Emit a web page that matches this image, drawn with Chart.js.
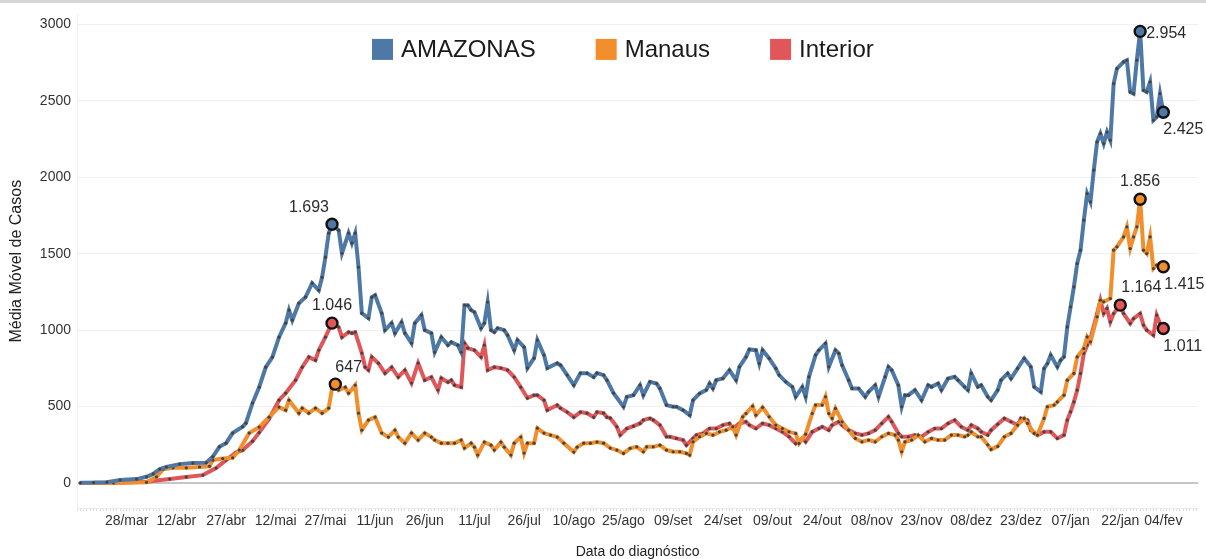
<!DOCTYPE html>
<html>
<head>
<meta charset="utf-8">
<script src="https://cdn.jsdelivr.net/npm/chart.js@4.4.1/dist/chart.umd.min.js"></script>
<style>
  html, body { margin: 0; padding: 0; background: #fff; }
  #wrap { width: 1206px; height: 559px; position: relative; }
</style>
</head>
<body>
<div id="wrap"><canvas id="mediaChart"></canvas></div>
<script>
// eixo x em dias, dia 0 = 14/mar/2020
const tickDays = [14, 29, 44, 59, 74, 89, 104, 119, 134, 149, 164, 179, 194, 209, 224, 239, 254, 269, 284, 299, 314, 327];
const tickLabels = ['28/mar', '12/abr', '27/abr', '12/mai', '27/mai', '11/jun', '26/jun', '11/jul', '26/jul', '10/ago', '25/ago',
    '09/set', '24/set', '09/out', '24/out', '08/nov', '23/nov', '08/dez', '23/dez', '07/jan', '22/jan', '04/fev'];
const yTicks = [0, 500, 1000, 1500, 2000, 2500, 3000];

const seriesNames = ['AMAZONAS', 'Manaus', 'Interior'];
const seriesColors = ['#4e79a7', '#f28e2b', '#e15759'];

// [dia, média móvel]
const amazonasData = [
    [0, 2], [4, 3], [8, 6], [12, 20], [17, 26], [20, 41], [22, 60], [24, 92], [26, 105], [30, 124], [34, 131], [38, 133],
    [40, 172], [42, 237], [44, 261], [46, 327], [49, 368], [50, 392], [52, 523], [54, 627], [56, 758], [58, 824], [60, 954],
    [62, 1046], [63, 1131], [64, 1065], [66, 1176], [68, 1216], [70, 1307], [72, 1261], [73, 1346], [74, 1477], [75, 1634],
    [76, 1693], [78, 1653], [79, 1503], [81, 1634], [82, 1569], [83, 1634], [84, 1412], [85, 1111], [87, 1078], [88, 1216],
    [89, 1229], [91, 1111], [92, 1000], [94, 1046], [95, 980], [97, 1052], [98, 980], [100, 915], [101, 1046], [103, 1098],
    [104, 1000], [106, 980], [107, 856], [109, 954], [111, 902], [112, 922], [114, 902], [115, 856], [116, 1163], [117, 1163],
    [118, 1131], [119, 1118], [121, 1013], [122, 1046], [123, 1183], [124, 1000], [125, 987], [126, 1013], [128, 1000],
    [129, 967], [131, 869], [132, 935], [134, 889], [135, 752], [137, 817], [138, 935], [140, 837], [141, 752], [144, 784],
    [145, 771], [147, 706], [149, 640], [151, 719], [153, 719], [155, 693], [156, 719], [158, 706], [159, 673], [161, 588],
    [164, 499], [165, 564], [167, 575], [169, 640], [170, 575], [172, 662], [174, 651], [175, 619], [177, 510], [179, 499],
    [180, 499], [182, 477], [184, 444], [185, 542], [187, 586], [189, 608], [190, 651], [191, 619], [192, 673], [194, 684],
    [196, 739], [198, 673], [199, 760], [201, 825], [202, 874], [204, 869], [205, 782], [206, 869], [208, 815], [210, 750],
    [211, 706], [213, 662], [215, 629], [216, 564], [218, 629], [219, 564], [220, 695], [222, 837], [223, 869], [225, 913],
    [226, 760], [228, 869], [229, 848], [230, 771], [232, 673], [233, 619], [235, 619], [237, 564], [238, 597], [240, 640],
    [241, 564], [243, 695], [244, 760], [245, 739], [247, 640], [248, 499], [249, 575], [250, 575], [252, 608], [254, 542],
    [256, 640], [257, 629], [259, 651], [260, 608], [262, 684], [264, 695], [265, 673], [267, 629], [268, 608], [269, 717],
    [271, 629], [272, 640], [274, 564], [275, 542], [277, 608], [278, 673], [280, 717], [281, 684], [283, 750], [285, 815],
    [287, 760], [288, 629], [290, 597], [291, 750], [292, 782], [293, 837], [295, 760], [296, 804], [297, 825], [298, 1021],
    [299, 1152], [300, 1283], [301, 1436], [302, 1523], [303, 1719], [304, 1893], [305, 1839], [306, 2046], [307, 2231],
    [308, 2286], [309, 2220], [310, 2296], [311, 2242], [312, 2612], [313, 2710], [315, 2754], [316, 2765], [317, 2558],
    [318, 2547], [319, 2765], [320, 2954], [321, 2569], [322, 2558], [323, 2623], [324, 2373], [325, 2394], [326, 2547], [327, 2425]
];

const manausData = [
    [0, 0], [10, 1], [20, 5], [23, 40], [25, 90], [28, 100], [32, 100], [36, 105], [39, 110], [40, 150], [43, 160], [46, 165],
    [48, 216], [51, 327], [54, 366], [57, 431], [60, 497], [62, 477], [63, 542], [66, 457], [67, 490], [69, 457], [71, 490],
    [73, 457], [75, 490], [76, 620], [77, 647], [78, 608], [80, 627], [81, 588], [83, 640], [84, 457], [85, 346], [87, 412],
    [89, 431], [91, 327], [93, 301], [95, 346], [96, 301], [98, 261], [100, 327], [102, 281], [104, 327], [106, 301], [107, 281],
    [109, 261], [111, 261], [113, 261], [115, 281], [116, 229], [118, 261], [119, 235], [120, 183], [122, 268], [124, 248],
    [125, 216], [127, 268], [128, 235], [130, 183], [131, 261], [133, 301], [134, 196], [135, 261], [137, 261], [138, 359],
    [140, 327], [142, 314], [144, 301], [146, 261], [149, 203], [150, 235], [152, 261], [154, 261], [156, 268], [158, 261],
    [160, 229], [162, 216], [164, 194], [166, 227], [168, 237], [170, 205], [171, 237], [173, 237], [175, 248], [177, 216],
    [179, 205], [181, 205], [183, 194], [184, 183], [185, 270], [187, 303], [189, 325], [191, 314], [193, 335], [195, 346],
    [197, 368], [198, 314], [200, 433], [201, 455], [203, 503], [204, 444], [206, 495], [208, 433], [210, 379], [212, 357],
    [214, 335], [216, 325], [217, 259], [219, 320], [221, 455], [222, 510], [224, 510], [225, 564], [226, 455], [227, 423],
    [228, 488], [230, 401], [232, 346], [234, 292], [236, 270], [238, 281], [240, 270], [242, 303], [244, 325], [246, 314],
    [247, 281], [248, 205], [249, 270], [251, 281], [253, 314], [255, 270], [257, 292], [259, 281], [261, 281], [263, 314],
    [265, 314], [267, 303], [268, 314], [269, 335], [271, 303], [272, 303], [274, 250], [275, 220], [277, 240], [279, 303],
    [281, 325], [283, 379], [285, 423], [286, 390], [288, 325], [289, 314], [291, 423], [292, 499], [294, 510], [295, 531],
    [297, 575], [298, 673], [300, 717], [301, 825], [303, 880], [304, 956], [305, 924], [307, 1087], [308, 1196], [309, 1185],
    [311, 1207], [312, 1523], [313, 1545], [315, 1610], [316, 1675], [317, 1534], [318, 1610], [319, 1675], [320, 1856],
    [321, 1523], [322, 1501], [323, 1610], [324, 1403], [325, 1425], [326, 1436], [327, 1415]
];

const interiorData = [
    [0, 0], [10, 2], [20, 8], [27, 26], [32, 40], [37, 52], [41, 98], [44, 150], [47, 200], [49, 215], [52, 274], [54, 330],
    [57, 420], [60, 542], [62, 588], [65, 673], [67, 758], [69, 824], [71, 804], [72, 869], [74, 954], [76, 1046], [78, 1020],
    [79, 954], [81, 987], [82, 980], [83, 987], [85, 850], [86, 758], [87, 739], [88, 824], [90, 784], [92, 719], [94, 758],
    [96, 693], [98, 739], [100, 654], [102, 784], [104, 673], [106, 693], [108, 608], [109, 686], [111, 660], [112, 673],
    [113, 640], [115, 627], [116, 915], [117, 882], [119, 869], [121, 824], [122, 902], [123, 739], [125, 758], [127, 752],
    [129, 739], [131, 693], [133, 627], [135, 556], [137, 575], [138, 575], [140, 542], [141, 477], [144, 510], [145, 490],
    [147, 464], [149, 431], [151, 464], [153, 457], [155, 431], [156, 464], [158, 457], [159, 431], [160, 425], [162, 368],
    [163, 314], [165, 357], [167, 372], [169, 390], [170, 412], [172, 423], [173, 412], [175, 379], [177, 303], [178, 303],
    [180, 292], [182, 281], [183, 248], [185, 292], [186, 314], [188, 325], [190, 357], [192, 357], [194, 379], [196, 390],
    [197, 357], [199, 390], [201, 401], [202, 379], [204, 357], [206, 390], [208, 379], [210, 357], [212, 335], [214, 303],
    [216, 259], [218, 292], [219, 270], [221, 335], [223, 357], [224, 368], [226, 346], [227, 379], [229, 401], [230, 379],
    [232, 346], [234, 325], [236, 314], [238, 325], [240, 346], [242, 390], [244, 433], [245, 401], [247, 325], [248, 303],
    [250, 303], [252, 314], [254, 303], [256, 335], [258, 357], [260, 357], [262, 390], [264, 412], [266, 368], [268, 346],
    [269, 379], [271, 357], [272, 335], [274, 314], [275, 346], [277, 385], [279, 423], [281, 401], [283, 379], [284, 423],
    [286, 412], [287, 346], [289, 314], [291, 335], [293, 335], [295, 292], [297, 314], [298, 412], [299, 466], [300, 531],
    [301, 608], [302, 717], [303, 848], [304, 902], [305, 946], [307, 1109], [308, 1196], [309, 1109], [310, 1142], [311, 1054],
    [312, 1109], [314, 1164], [315, 1109], [317, 1044], [318, 1076], [320, 1109], [321, 1033], [322, 1000], [324, 967],
    [325, 1098], [326, 1044], [327, 1011]
];

// pontos destacados com rótulo
const highlightDays = {
    AMAZONAS: [76, 320, 327],
    Manaus: [77, 320, 327],
    Interior: [76, 314, 327]
};

// alinhamento dos rótulos: [textAlign, textBaseline, dx, dy]
const labelPos = {
    AMAZONAS: { 76: ['right', 'bottom', -3, -9], 320: ['left', 'middle', 6, 2], 327: ['left', 'top', 0, 9] },
    Manaus: { 77: ['left', 'bottom', 0, -9], 320: ['center', 'bottom', 0, -10], 327: ['left', 'top', 1, 10] },
    Interior: { 76: ['center', 'bottom', 0, -10], 314: ['left', 'bottom', 1, -9], 327: ['left', 'top', 0, 10] }
};

const fontFamily = "'Liberation Sans', Arial, sans-serif";
Chart.defaults.font.family = fontFamily;

const X_MIN = -1, X_MAX = 337.5;

const fmt = v => String(v).replace(/\B(?=(\d{3})+(?!\d))/g, '.');
const toXY = arr => arr.map(([x, y]) => ({ x, y }));

function makeDataset(name, color, data) {
    const isHi = c => c.raw && highlightDays[name].includes(c.raw.x);
    return {
        label: name,
        data: toXY(data),
        borderColor: color,
        backgroundColor: color,
        borderWidth: 4,
        tension: 0,
        pointRadius: c => isHi(c) ? 5.5 : 1.6,
        pointBorderWidth: c => isHi(c) ? 2.4 : 0,
        pointBorderColor: '#111',
        pointBackgroundColor: c => isHi(c) ? color : '#444',
        pointHoverRadius: 0
    };
}

const topStrip = {
    id: 'topStrip',
    beforeDraw(chart) {
        const ctx = chart.ctx;
        ctx.save();
        ctx.fillStyle = '#d6d6d6';
        ctx.fillRect(0, 0, chart.width, 3);
        ctx.restore();
    }
};

const pointLabels = {
    id: 'pointLabels',
    afterDatasetsDraw(chart) {
        const ctx = chart.ctx;
        ctx.save();
        ctx.font = '16px ' + fontFamily;
        ctx.fillStyle = '#2b2b2b';
        chart.data.datasets.forEach((ds, i) => {
            const meta = chart.getDatasetMeta(i);
            const pos = labelPos[ds.label];
            meta.data.forEach((pt, j) => {
                const raw = ds.data[j];
                const p = pos[raw.x];
                if (!p) return;
                ctx.textAlign = p[0];
                ctx.textBaseline = p[1];
                ctx.fillText(fmt(raw.y), pt.x + p[2], pt.y + p[3]);
            });
        });
        ctx.restore();
    }
};

// legenda desenhada dentro da área do gráfico
const innerLegend = {
    id: 'innerLegend',
    afterDraw(chart) {
        const ctx = chart.ctx;
        const area = chart.chartArea;
        const box = 21, gapText = 8, gapItem = 60;
        ctx.save();
        ctx.font = '24px ' + fontFamily;
        ctx.textBaseline = 'middle';
        ctx.textAlign = 'left';
        let x = area.left + 295;
        const y = area.top + 35;
        seriesNames.forEach((name, i) => {
            ctx.fillStyle = seriesColors[i];
            ctx.fillRect(x, y - box / 2, box, box);
            ctx.fillStyle = '#1a1a1a';
            ctx.fillText(name, x + box + gapText, y + 1);
            x += box + gapText + ctx.measureText(name).width + gapItem;
        });
        ctx.restore();
    }
};

new Chart(document.getElementById('mediaChart'), {
    type: 'line',
    data: {
        datasets: [
            makeDataset(seriesNames[0], seriesColors[0], amazonasData),
            makeDataset(seriesNames[1], seriesColors[1], manausData),
            makeDataset(seriesNames[2], seriesColors[2], interiorData)
        ]
    },
    options: {
        responsive: true,
        maintainAspectRatio: false,
        animation: false,
        layout: { padding: 0 },
        plugins: {
            legend: { display: false },
            tooltip: { enabled: false }
        },
        scales: {
            x: {
                type: 'linear',
                min: X_MIN,
                max: X_MAX,
                afterBuildTicks: s => {
                    s.ticks = [];
                    for (let d = X_MIN; d <= X_MAX; d++) s.ticks.push({ value: d });
                },
                afterFit: s => { s.height = 51; },
                ticks: {
                    autoSkip: false,
                    maxRotation: 0,
                    padding: 2,
                    color: '#333',
                    font: { size: 14 },
                    callback: v => {
                        const i = tickDays.indexOf(v);
                        return i >= 0 ? tickLabels[i] : '';
                    }
                },
                grid: { drawOnChartArea: false, drawTicks: true, tickLength: 3, color: '#dcdcdc' },
                border: { display: true, color: '#ececec' },
                title: {
                    display: true,
                    text: 'Data do diagnóstico',
                    color: '#222',
                    font: { size: 14 },
                    padding: { top: 0, bottom: -2 }
                }
            },
            y: {
                min: -163,
                max: 3065,
                afterBuildTicks: s => { s.ticks = yTicks.map(v => ({ value: v })); },
                afterFit: s => { s.width = 77; },
                ticks: { padding: 6, color: '#333', font: { size: 14 }, callback: v => String(v) },
                grid: {
                    drawTicks: false,
                    color: c => c.tick && c.tick.value === 0 ? '#c6c6c6' : '#f0f0f0',
                    lineWidth: c => c.tick && c.tick.value === 0 ? 2 : 1
                },
                border: { display: true, color: '#f0f0f0' },
                title: {
                    display: true,
                    text: 'Média Móvel de Casos',
                    color: '#222',
                    font: { size: 16 },
                    padding: { top: 7, bottom: 0 }
                }
            }
        }
    },
    plugins: [topStrip, pointLabels, innerLegend]
});
</script>
</body>
</html>
